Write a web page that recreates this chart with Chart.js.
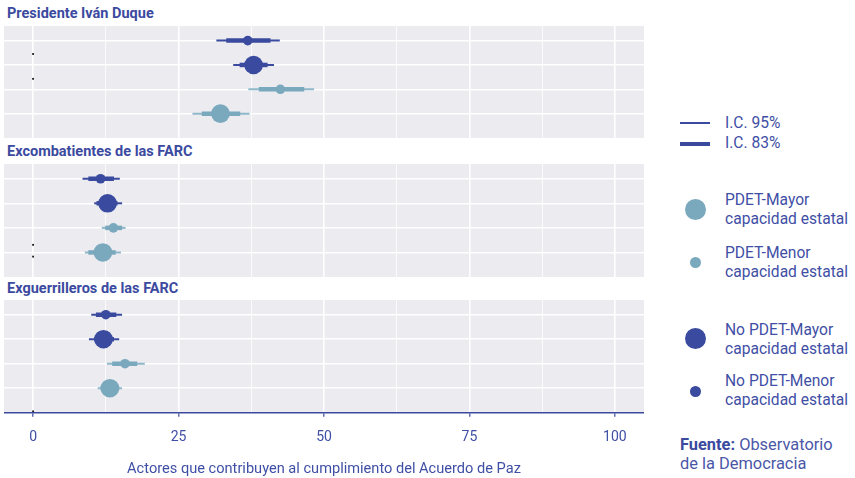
<!DOCTYPE html>
<html>
<head>
<meta charset="utf-8">
<script src="https://cdn.jsdelivr.net/npm/chart.js@4/dist/chart.umd.min.js"></script>
<style>
  body { margin: 0; width: 855px; height: 478px; background: #fff; position: relative; overflow: hidden; font-family: Roboto, "Noto Sans", sans-serif; }
  .panel { position: absolute; left: 4px; width: 640px; }
  .ptitle { position: absolute; left: 7px; font-weight: bold; font-size: 14.5px; line-height: 16px; color: #3b4a9f; white-space: nowrap; }
  .leg { position: absolute; left: 725px; color: #3f4fa5; font-size: 15.6px; line-height: 19px; white-space: nowrap; }
  .legline { position: absolute; left: 680px; width: 30px; background: #3a4a9e; }
  .dot { position: absolute; border-radius: 50%; }
  .src { position: absolute; left: 680px; top: 436px; color: #4a57a8; font-size: 16.4px; line-height: 18.5px; white-space: nowrap; }
  .src b { color: #3b4a9f; }
</style>
</head>
<body>

<div class="ptitle" style="top:6px">Presidente Iván Duque</div>
<div class="ptitle" style="top:144px">Excombatientes de las FARC</div>
<div class="ptitle" style="top:281px">Exguerrilleros de las FARC</div>

<div class="panel" style="top:26px;height:112px"><canvas id="duque"></canvas></div>
<div class="panel" style="top:164px;height:113px"><canvas id="excom"></canvas></div>
<div class="panel" style="top:300px;height:178px"><canvas id="exgu"></canvas></div>

<!-- legend -->
<div class="legline" style="top:122px;height:2px"></div>
<div class="legline" style="top:142px;height:4px"></div>
<div class="leg" style="top:114px">I.C. 95%</div>
<div class="leg" style="top:134px">I.C. 83%</div>

<div class="dot" style="left:684.5px;top:198.5px;width:21px;height:21px;background:#7aa8bd"></div>
<div class="leg" style="top:190.5px">PDET-Mayor<br>capacidad estatal</div>
<div class="dot" style="left:689.5px;top:256.5px;width:11px;height:11px;background:#7aa8bd"></div>
<div class="leg" style="top:244px">PDET-Menor<br>capacidad estatal</div>
<div class="dot" style="left:684.5px;top:328px;width:21px;height:21px;background:#3a4a9e"></div>
<div class="leg" style="top:321px">No PDET-Mayor<br>capacidad estatal</div>
<div class="dot" style="left:689.5px;top:385.5px;width:11px;height:11px;background:#3a4a9e"></div>
<div class="leg" style="top:371.5px">No PDET-Menor<br>capacidad estatal</div>

<div class="src"><b>Fuente:</b> Observatorio<br>de la Democracia</div>

<script>
// Groups, one per row, top to bottom
const groups = ['No PDET-Menor capacidad estatal', 'No PDET-Mayor capacidad estatal',
                'PDET-Menor capacidad estatal', 'PDET-Mayor capacidad estatal'];
const rowPos = [1, 2, 3, 4];
const xTicks = [0, 12.5, 25, 37.5, 50, 62.5, 75, 87.5, 100];

// Presidente Iván Duque
const duqueEst  = [36.9, 37.9, 42.5, 32.2];
const duqueLo95 = [31.5, 34.4, 37.0, 27.4];
const duqueHi95 = [42.4, 41.4, 48.3, 37.2];
const duqueLo83 = [33.2, 35.5, 38.8, 29.0];
const duqueHi83 = [40.8, 40.3, 46.6, 35.6];
const duqueStray = [1.55, 2.57];

// Excombatientes de las FARC
const excomEst  = [11.6, 12.8, 13.8, 12.0];
const excomLo95 = [8.5, 10.5, 11.8, 8.9];
const excomHi95 = [14.9, 15.3, 15.9, 15.1];
const excomLo83 = [9.5, 10.9, 12.4, 9.5];
const excomHi83 = [13.9, 14.5, 15.3, 14.2];
const excomStray = [3.69, 4.17];

// Exguerrilleros de las FARC
const exguEst  = [12.5, 12.1, 15.8, 13.2];
const exguLo95 = [10.0, 9.6, 12.7, 11.1];
const exguHi95 = [15.3, 14.8, 19.2, 15.3];
const exguLo83 = [10.8, 10.5, 13.6, 11.6];
const exguHi83 = [14.3, 13.9, 17.9, 14.8];
const exguStray = [4.95];

// Styling per group
const DARK = '#3a4a9e', LIGHT = '#7aa8bd', LIGHT_THIN = '#8fb8ca';
const groupColor = [DARK, DARK, LIGHT, LIGHT];
const groupThin = [DARK, DARK, LIGHT_THIN, LIGHT_THIN];
const groupRadius = [4.8, 9.3, 4.8, 9.3];
const AXIS = '#3b4a9f', TEXT = '#3f4fa5';

Chart.defaults.font.family = 'Roboto, "Noto Sans", sans-serif';

const panelBg = {
  id: 'panelBg',
  beforeDraw(chart) {
    const { ctx, chartArea: a } = chart;
    ctx.save();
    ctx.fillStyle = '#ebebf0';
    ctx.fillRect(a.left, a.top, a.width, a.height);
    ctx.restore();
  }
};

function makePanel(id, est, lo95, hi95, lo83, hi83, stray, showAxis) {
  const datasets = [];
  // estimates on top
  datasets.push({
    label: 'estimate',
    data: est.map((v, i) => ({ x: v, y: rowPos[i] })),
    pointRadius: groupRadius,
    pointBackgroundColor: groupColor,
    pointBorderWidth: 0,
    showLine: false
  });
  groups.forEach((g, i) => {
    datasets.push({
      label: g + ' 83%',
      data: [{ x: lo83[i], y: rowPos[i] }, { x: hi83[i], y: rowPos[i] }],
      showLine: true, borderColor: groupColor[i], borderWidth: 4.5,
      borderCapStyle: 'butt', pointRadius: 0
    });
    datasets.push({
      label: g + ' 95%',
      data: [{ x: lo95[i], y: rowPos[i] }, { x: hi95[i], y: rowPos[i] }],
      showLine: true, borderColor: groupThin[i], borderWidth: 2,
      borderCapStyle: 'butt', pointRadius: 0
    });
  });
  datasets.push({
    label: 'marks',
    data: stray.map(v => ({ x: 0, y: v })),
    pointStyle: 'rect', pointRadius: 1.3,
    pointBackgroundColor: '#1a1a1a', pointBorderWidth: 0, showLine: false
  });

  const isMajor = c => c.tick && Math.abs(c.tick.value % 25) < 1e-6;

  return new Chart(document.getElementById(id), {
    type: 'scatter',
    data: { datasets },
    plugins: [panelBg],
    options: {
      responsive: true,
      maintainAspectRatio: false,
      animation: false,
      events: [],
      layout: { padding: 0, autoPadding: false },
      plugins: { legend: { display: false }, tooltip: { enabled: false } },
      scales: {
        x: {
          type: 'linear', min: -5, max: 105,
          afterBuildTicks: s => { s.ticks = xTicks.map(v => ({ value: v })); },
          grid: {
            color: '#ffffff',
            lineWidth: c => isMajor(c) ? 1.6 : 0.8,
            drawTicks: showAxis, tickLength: 4, tickWidth: 1.2,
            tickColor: c => isMajor(c) ? AXIS : 'rgba(0,0,0,0)'
          },
          border: { display: showAxis, color: AXIS, width: 1.5 },
          ticks: {
            display: showAxis, color: TEXT, font: { size: 14 }, padding: 12,
            autoSkip: false, maxRotation: 0,
            callback: v => (Math.abs(v % 25) < 1e-6 ? v : '')
          },
          title: {
            display: showAxis, text: 'Actores que contribuyen al cumplimiento del Acuerdo de Paz',
            color: TEXT, font: { size: 14.6 }, padding: { top: 3, bottom: 0 }
          }
        },
        y: {
          type: 'linear', min: 0.4, max: 5, reverse: true,
          afterBuildTicks: s => { s.ticks = rowPos.map(v => ({ value: v })); },
          grid: { color: '#ffffff', lineWidth: 1.6, drawTicks: false },
          border: { display: false },
          ticks: { display: false }
        }
      }
    }
  });
}

makePanel('duque', duqueEst, duqueLo95, duqueHi95, duqueLo83, duqueHi83, duqueStray, false);
makePanel('excom', excomEst, excomLo95, excomHi95, excomLo83, excomHi83, excomStray, false);
makePanel('exgu', exguEst, exguLo95, exguHi95, exguLo83, exguHi83, exguStray, true);
</script>
</body>
</html>
